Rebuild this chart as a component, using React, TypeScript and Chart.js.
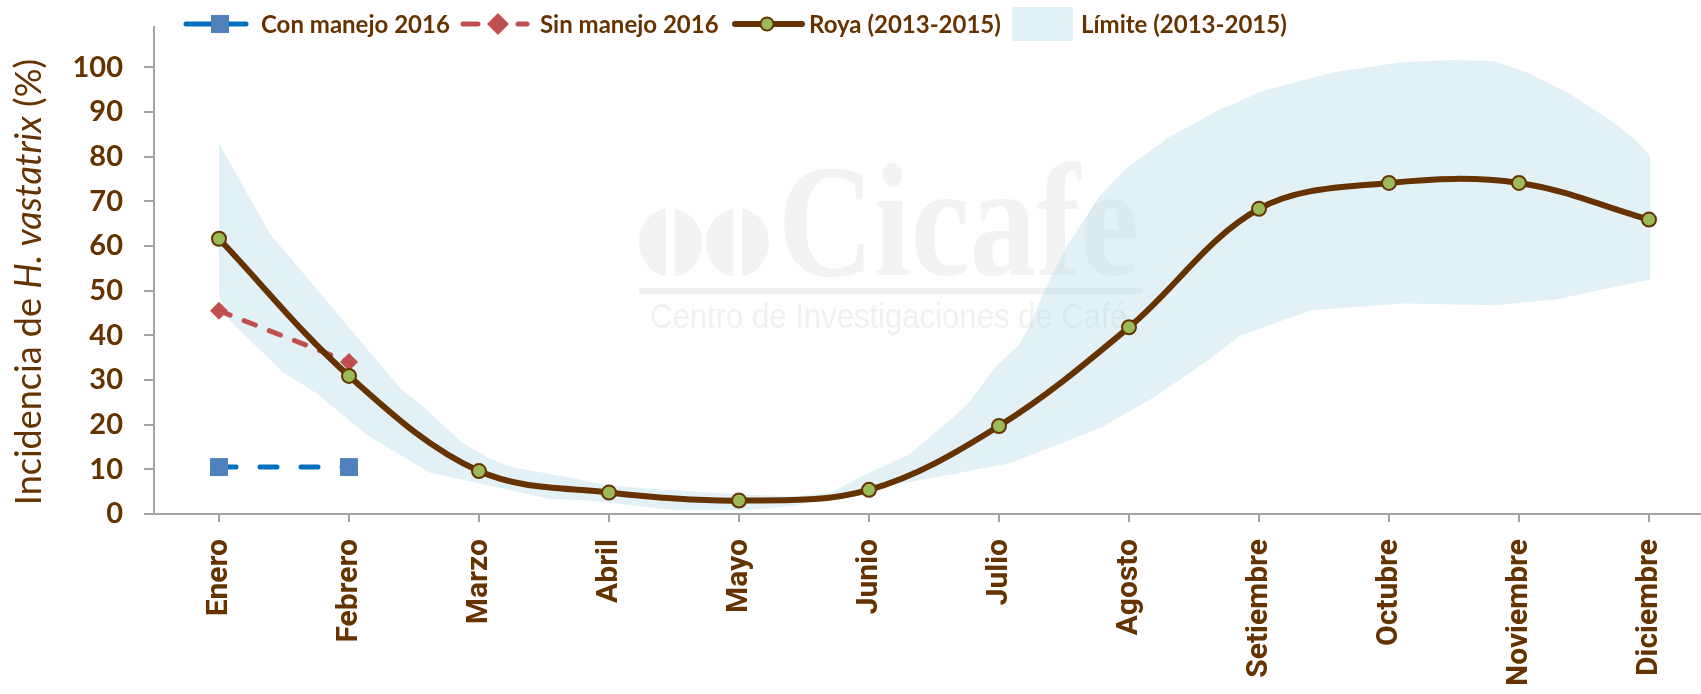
import React, { useEffect, useRef } from 'react';
import { Chart, registerables } from 'chart.js';

Chart.register(...registerables);

// ---------- data ----------
const months = ['Enero', 'Febrero', 'Marzo', 'Abril', 'Mayo', 'Junio', 'Julio', 'Agosto', 'Setiembre', 'Octubre', 'Noviembre', 'Diciembre'];
const royaValues = [61.6, 30.9, 9.6, 4.8, 3.0, 5.4, 19.7, 41.8, 68.3, 74.1, 74.1, 65.9];
const sinManejoValues = [45.5, 34.0];
const conManejoValues = [10.5, 10.5];
const yTickValues = [0, 10, 20, 30, 40, 50, 60, 70, 80, 90, 100];

// band (Límite 2013-2015): upper edge left->right, lower edge right->left (month index units)
const bandUpperX = [0.0, 0.39, 1.39, 1.6, 1.87, 2.08, 2.26, 2.54, 2.74, 3.0, 3.49, 3.98, 4.44, 4.72, 4.93, 5.31, 5.62, 5.77, 5.98, 6.15, 6.23, 6.35, 6.52, 6.77, 6.98, 7.31, 7.69, 8.05, 8.57, 9.09, 9.49, 9.8, 10.05, 10.38, 10.74, 10.91, 11.01];
const bandUpperY = [83.0, 62.8, 28.3, 23.2, 16.0, 12.4, 10.4, 9.0, 7.9, 6.4, 5.3, 4.4, 3.9, 4.9, 8.2, 13.4, 20.9, 25.0, 33.2, 37.7, 41.8, 50.1, 59.8, 71.0, 77.4, 84.4, 90.4, 94.9, 98.8, 101.1, 101.6, 101.4, 99.0, 94.2, 87.4, 83.3, 80.0];
const bandLowerX = [11.01, 10.28, 9.82, 9.11, 8.4, 7.86, 7.59, 7.19, 6.79, 6.08, 5.1, 4.75, 4.44, 4.08, 3.49, 2.85, 2.54, 1.62, 1.14, 0.75, 0.49, 0.06, 0.0];
const bandLowerY = [52.5, 48.0, 46.7, 47.1, 45.6, 40.0, 34.0, 26.1, 19.4, 11.3, 6.0, 4.1, 1.9, 0.9, 0.9, 3.0, 3.4, 9.3, 17.6, 27.0, 31.7, 44.0, 49.4];

const seriesLabels = ['Con manejo 2016', 'Sin manejo 2016', 'Roya (2013-2015)', 'Límite (2013-2015)'];
const yTitleParts: [string, boolean][] = [['Incidencia de ', false], ['H. vastatrix', true], [' (%)', false]];
const watermarkTitle = 'Cicafe';
const watermarkSubtitle = 'Centro de Investigaciones de Café';

// ---------- styles ----------
const BROWN = '#663300';
const AXIS = '#a3a3a3';
const BAND = 'rgba(183,221,232,0.4)';
const BLUE_LINE = '#0070C0';
const BLUE_MARK = '#4F81BD';
const RED = '#C0504D';
const GREEN = '#9BBB59';

const watermarkPlugin = {
  id: 'watermark',
  beforeDatasetsDraw(chart: any) {
    const ctx = chart.ctx as CanvasRenderingContext2D;
    ctx.save();
    ctx.fillStyle = '#f3f3f3';
    const beans = [670.5, 737.5];
    for (const cx of beans) {
      ctx.save();
      ctx.beginPath();
      ctx.rect(cx - 40, 200, 35.5, 90);
      ctx.rect(cx + 4.5, 200, 35.5, 90);
      ctx.clip();
      ctx.beginPath();
      ctx.ellipse(cx, 242.5, 31.5, 34.5, 0, 0, Math.PI * 2);
      ctx.fill();
      ctx.restore();
    }
    ctx.font = 'bold 160px "Liberation Serif"';
    ctx.textBaseline = 'alphabetic';
    ctx.textAlign = 'left';
    const w = ctx.measureText(watermarkTitle).width;
    ctx.save();
    ctx.translate(778, 275);
    ctx.scale(361 / w, 1);
    ctx.fillText(watermarkTitle, 0, 0);
    ctx.restore();
    ctx.fillStyle = '#f0f0f0';
    ctx.fillRect(639, 288, 504, 6);
    ctx.fillStyle = '#f1f1f1';
    ctx.font = '35px "Liberation Sans"';
    const w2 = ctx.measureText(watermarkSubtitle).width;
    ctx.save();
    ctx.translate(650, 328);
    ctx.scale(477 / w2, 1);
    ctx.fillText(watermarkSubtitle, 0, 0);
    ctx.restore();
    ctx.restore();
  },
};

const legendAndTitlePlugin = {
  id: 'legendAndTitle',
  afterDraw(chart: any) {
    const ctx = chart.ctx as CanvasRenderingContext2D;
    const ly = 24;
    ctx.save();
    ctx.lineCap = 'round';
    // Con manejo
    ctx.strokeStyle = BLUE_LINE;
    ctx.lineWidth = 5;
    ctx.beginPath();
    ctx.moveTo(186, ly);
    ctx.lineTo(246, ly);
    ctx.stroke();
    ctx.fillStyle = BLUE_MARK;
    ctx.fillRect(211, ly - 9, 18, 18);
    // Sin manejo
    ctx.strokeStyle = RED;
    ctx.lineWidth = 5;
    ctx.beginPath();
    ctx.moveTo(463, ly);
    ctx.lineTo(478, ly);
    ctx.moveTo(518, ly);
    ctx.lineTo(527, ly);
    ctx.stroke();
    ctx.fillStyle = RED;
    ctx.beginPath();
    ctx.moveTo(498, ly - 11);
    ctx.lineTo(509, ly);
    ctx.lineTo(498, ly + 11);
    ctx.lineTo(487, ly);
    ctx.closePath();
    ctx.fill();
    // Roya
    ctx.strokeStyle = BROWN;
    ctx.lineWidth = 6;
    ctx.beginPath();
    ctx.moveTo(735, ly);
    ctx.lineTo(802, ly);
    ctx.stroke();
    ctx.fillStyle = GREEN;
    ctx.lineWidth = 2;
    ctx.beginPath();
    ctx.arc(767, ly, 6.5, 0, Math.PI * 2);
    ctx.fill();
    ctx.stroke();
    // Limite
    ctx.fillStyle = BAND;
    ctx.fillRect(1012, 7, 61, 34);
    // texts
    ctx.fillStyle = BROWN;
    ctx.font = 'bold 24px Lato';
    ctx.textBaseline = 'alphabetic';
    ctx.textAlign = 'left';
    const textX = [261, 540, 809, 1081];
    seriesLabels.forEach((t, i) => ctx.fillText(t, textX[i], 33));

    // y axis title (mixed regular / italic)
    const size = 36;
    const fontFor = (it: boolean) => `${it ? 'italic ' : ''}${size}px Lato`;
    let total = 0;
    const widths = yTitleParts.map(([t, it]) => {
      ctx.font = fontFor(it);
      const w = ctx.measureText(t).width;
      total += w;
      return w;
    });
    ctx.translate(29, 282);
    ctx.rotate(-Math.PI / 2);
    ctx.textBaseline = 'middle';
    let x = -total / 2;
    yTitleParts.forEach(([t, it], i) => {
      ctx.font = fontFor(it);
      ctx.fillText(t, x, 0);
      x += widths[i];
    });
    ctx.restore();
  },
};

export default function App() {
  const canvasRef = useRef<HTMLCanvasElement | null>(null);

  useEffect(() => {
    const canvas = canvasRef.current;
    if (!canvas) return;

    const bandPoints = [
      ...bandUpperX.map((x, i) => ({ x, y: bandUpperY[i] })),
      ...bandLowerX.map((x, i) => ({ x, y: bandLowerY[i] })),
    ];

    const chart = new Chart(canvas, {
      type: 'line',
      data: {
        datasets: [
          {
            label: seriesLabels[2],
            data: royaValues.map((y, i) => ({ x: i, y })),
            borderColor: BROWN,
            borderWidth: 6,
            tension: 0.35,
            pointRadius: 7,
            pointBorderWidth: 2,
            pointBackgroundColor: GREEN,
            pointBorderColor: BROWN,
            fill: false,
            order: 0,
          },
          {
            label: seriesLabels[1],
            data: sinManejoValues.map((y, i) => ({ x: i, y })),
            borderColor: RED,
            borderWidth: 5,
            borderDash: [12, 15],
            borderCapStyle: 'round',
            tension: 0,
            pointStyle: 'rectRot',
            pointRadius: 9,
            pointBorderWidth: 0,
            pointBackgroundColor: RED,
            pointBorderColor: RED,
            fill: false,
            order: 1,
          },
          {
            label: seriesLabels[0],
            data: conManejoValues.map((y, i) => ({ x: i, y })),
            borderColor: BLUE_LINE,
            borderWidth: 5,
            borderDash: [17, 24],
            borderCapStyle: 'round',
            tension: 0,
            pointStyle: 'rect',
            pointRadius: 12.7,
            pointBorderWidth: 0,
            pointBackgroundColor: BLUE_MARK,
            pointBorderColor: BLUE_MARK,
            fill: false,
            order: 2,
          },
          {
            label: seriesLabels[3],
            data: bandPoints,
            borderWidth: 0,
            borderColor: 'rgba(0,0,0,0)',
            backgroundColor: BAND,
            pointRadius: 0,
            tension: 0,
            fill: 'shape',
            order: 10,
          },
        ],
      },
      options: {
        responsive: false,
        animation: false,
        events: [],
        layout: { autoPadding: false, padding: { top: 27, left: 0, right: 0, bottom: 0 } },
        plugins: {
          legend: { display: false },
          tooltip: { enabled: false },
        },
        scales: {
          x: {
            type: 'linear',
            min: -0.5,
            max: 11.4,
            afterBuildTicks: (scale: any) => {
              scale.ticks = months.map((_, i) => ({ value: i }));
            },
            afterFit: (scale: any) => {
              scale.height = 180;
              scale.paddingLeft = 0;
              scale.paddingRight = 0;
              scale.paddingTop = 0;
              scale.paddingBottom = 0;
            },
            ticks: {
              autoSkip: false,
              minRotation: 90,
              maxRotation: 90,
              padding: 17,
              color: BROWN,
              font: { family: 'Roboto', weight: 'bold', size: 30 },
              callback: (v: any) => months[v as number],
            },
            grid: {
              display: true,
              drawOnChartArea: false,
              drawTicks: true,
              tickLength: 8,
              color: AXIS,
              lineWidth: 2,
            },
            border: { display: true, color: AXIS, width: 2 },
          },
          y: {
            type: 'linear',
            min: 0,
            max: 109,
            afterBuildTicks: (scale: any) => {
              scale.ticks = yTickValues.map((v) => ({ value: v }));
            },
            afterFit: (scale: any) => {
              scale.width = 154;
              scale.paddingLeft = 0;
              scale.paddingRight = 0;
              scale.paddingTop = 0;
              scale.paddingBottom = 0;
            },
            ticks: {
              padding: 21,
              color: BROWN,
              font: { family: 'Lato', weight: 'bold', size: 29 },
              callback: (v: any) => String(v),
            },
            grid: {
              display: true,
              drawOnChartArea: false,
              drawTicks: true,
              tickLength: 10,
              color: AXIS,
              lineWidth: 2,
            },
            border: { display: true, color: AXIS, width: 2 },
          },
        },
      },
      plugins: [watermarkPlugin, legendAndTitlePlugin],
    } as any);

    return () => chart.destroy();
  }, []);

  return (
    <div style={{ position: 'fixed', left: 0, top: 0, width: 1701, height: 694, overflow: 'hidden', background: '#ffffff' }}>
      <canvas ref={canvasRef} width={1701} height={694} style={{ display: 'block', width: 1701, height: 694 }} />
    </div>
  );
}
